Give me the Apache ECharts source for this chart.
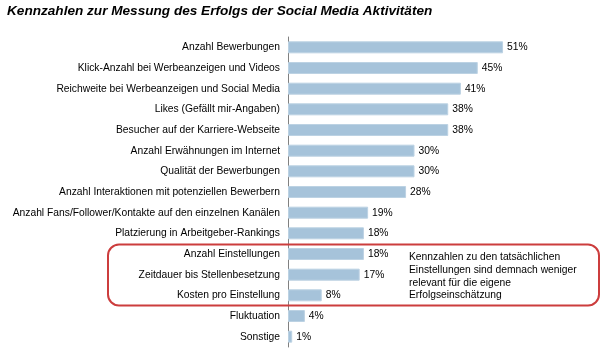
<!DOCTYPE html>
<html><head><meta charset="utf-8">
<script src="https://cdn.jsdelivr.net/npm/echarts@6/dist/echarts.min.js"></script>
<style>html,body{margin:0;padding:0;background:#fff}#c{width:605px;height:353px}</style>
</head><body><div id="c"></div>
<script>
const titleText = 'Kennzahlen zur Messung des Erfolgs der Social Media Aktivitäten';
const categories = [
  'Anzahl Bewerbungen',
  'Klick-Anzahl bei Werbeanzeigen und Videos',
  'Reichweite bei Werbeanzeigen und Social Media',
  'Likes (Gefällt mir-Angaben)',
  'Besucher auf der Karriere-Webseite',
  'Anzahl Erwähnungen im Internet',
  'Qualität der Bewerbungen',
  'Anzahl Interaktionen mit potenziellen Bewerbern',
  'Anzahl Fans/Follower/Kontakte auf den einzelnen Kanälen',
  'Platzierung in Arbeitgeber-Rankings',
  'Anzahl Einstellungen',
  'Zeitdauer bis Stellenbesetzung',
  'Kosten pro Einstellung',
  'Fluktuation',
  'Sonstige'
];
const values = [51, 45, 41, 38, 38, 30, 30, 28, 19, 18, 18, 17, 8, 4, 1];
const noteText = 'Kennzahlen zu den tatsächlichen\nEinstellungen sind demnach weniger\nrelevant für die eigene\nErfolgseinschätzung';

const chart = echarts.init(document.getElementById('c'), null, {renderer: 'canvas'});
const font = 'Liberation Sans, Arial, sans-serif';
chart.setOption({
  animation: false,
  title: {
    text: titleText, left: 2, top: -1,
    textStyle: {fontFamily: font, fontSize: 13.6, fontWeight: 'bold', fontStyle: 'italic', color: '#000'}
  },
  grid: {left: 288, top: 37, width: 253, height: 310, containLabel: false, outerBoundsMode: 'none'},
  xAxis: {type: 'value', min: 0, max: 60, show: false},
  yAxis: {
    type: 'category', data: categories, inverse: true,
    axisLine: {show: true, lineStyle: {color: '#808080', width: 1}},
    axisTick: {show: false},
    axisLabel: {fontFamily: font, fontSize: 10.3, color: '#000', margin: 8}
  },
  series: [{
    type: 'bar', data: values, barWidth: 12,
    itemStyle: {color: '#a6c3da', borderColor: '#bcd2e3', borderWidth: 1},
    label: {show: true, position: 'right', distance: 4, formatter: '{c}%', fontFamily: font, fontSize: 10.3, color: '#000'}
  }],
  graphic: [
    {type: 'rect', shape: {x: 108, y: 244.5, width: 491, height: 61, r: 11},
     style: {fill: 'none', stroke: '#cc3d3d', lineWidth: 2}, z: 10},
    {type: 'text', left: 409, top: 251,
     style: {text: noteText, font: '10.3px ' + font, fill: '#000', lineHeight: 12.7}, z: 10}
  ]
});
</script></body></html>
